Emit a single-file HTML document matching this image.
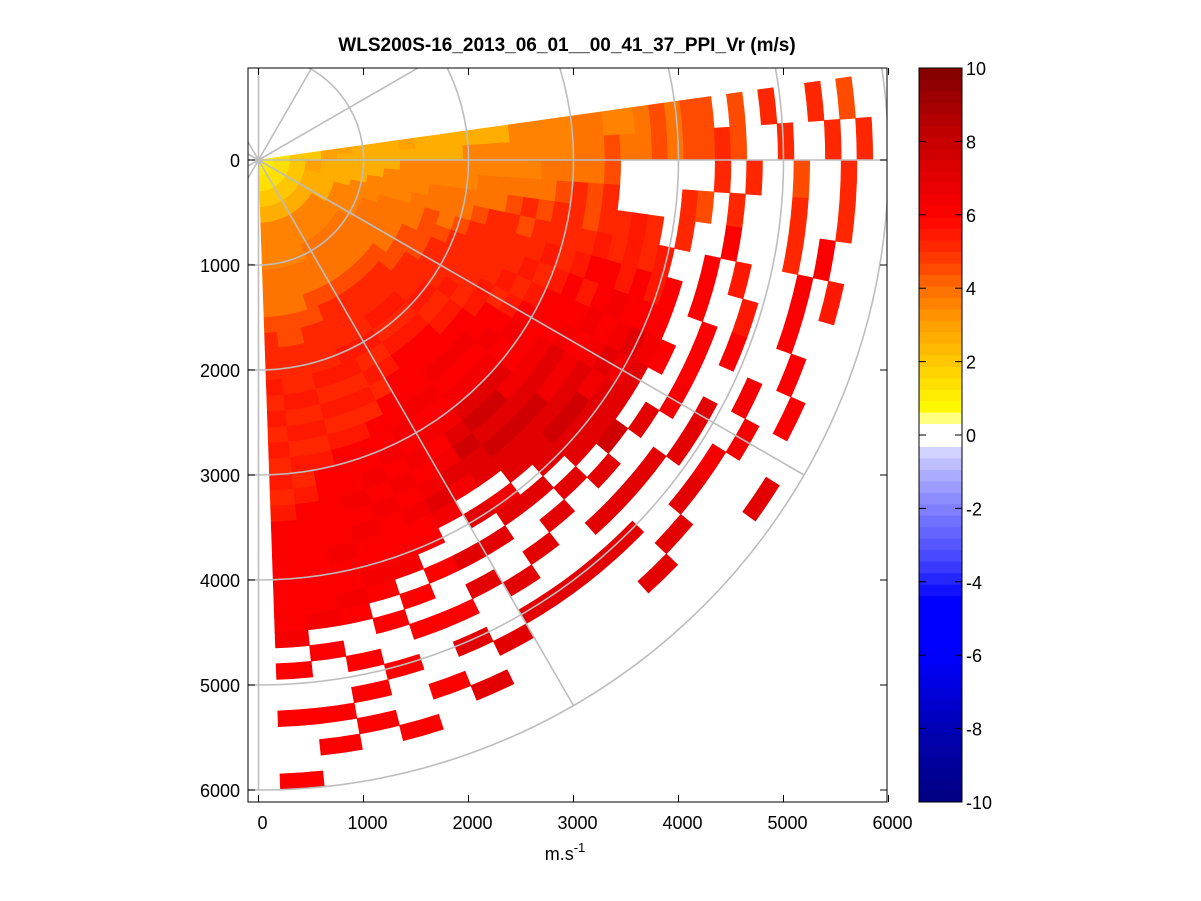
<!DOCTYPE html>
<html><head><meta charset="utf-8"><style>
html,body{margin:0;padding:0;background:#fff;}
svg{display:block;font-family:"Liberation Sans",Arial,sans-serif;}
</style></head><body>
<svg id="chart" width="1201" height="901" viewBox="0 0 1201 901">
<rect width="1201" height="901" fill="#fff"/>
<defs><clipPath id="clip"><rect x="248" y="68" width="639" height="734"/></clipPath></defs>
<text x="567" y="51" text-anchor="middle" font-size="19" font-weight="bold">WLS200S-16_2013_06_01__00_41_37_PPI_Vr (m/s)</text>
<g id="cells" clip-path="url(#clip)"></g>
<g id="grid" clip-path="url(#clip)"></g>
<rect x="248" y="68" width="639" height="734" fill="none" stroke="#000" stroke-width="1"/>
<g id="axes"></g>
<g id="cbar"></g>
<text x="565" y="860" text-anchor="middle" font-size="18">m.s<tspan dy="-8" font-size="13">-1</tspan></text>
</svg>
<script>
// data: range bins of 150 m, angle bins of 4 deg (clockwise from east)
// digit = integer m/s, letter A..H = 0.5..7.5 m/s, '.' = no data
const angleStart = -8;
const angleStep = 4;
const rangeStep = 150;
const rows = [
"1B2233CCC3CCCCCCDDDD44DD4E4EE.E.5..5.E..",
"1B223CCCCCCCCDDDDDDD44E44E4EE5E..5..5.5.",
"1B23CCCCCDDDDDDDDD4444E......5.5..E..5..",
"1B23CCCCDDDDDD44444E5E5....5E.5...5..5..",
"1B23CCCDDDD44444E5E55E55F5.5..6...5.6...",
"1B2CCCDDDD4444E55E5555F5F5F..6.F...6.F..",
"1B2CCDDD444E4E55555F5F66F6F6.6..F..6....",
"1B2CCDD4444EE55555F5F6F6G666..6.6...6...",
"1B2CCDD444EE55555F5F666G6G7G6.6...G..6..",
"1B2CCDD444EE5555F5F666G6G7G7..G.7..G....",
"1B2CDD4444E555F5F66G6G7G7G77.7..7.G...7.",
"1B2CDD444EE55F5F66G66G7G7H77H..7..7.....",
"1B2CDD444E555F5F6G6G7G7H7H77.7.7...7....",
"1B2CDD444E55F5F66G6G7H7H777.7..7.7..7...",
"1B2CDD444E55F5F66G6G7H7H77.7.7...7......",
"1B2CDD444E55F5F666G6G7H77.G7..7..7......",
"1B2CDD444E555F5F66G6G6G7G.7.7..7.7......",
"1B2CDD444E555F5F566G6G6G7G..7.7...7.....",
"1B2CDDD44E555FF5F566G6G6G66.6..6.7..7...",
"1B2CDDD44EE555F5F5F66G6G666G.6.6...6....",
"1B2CDDD444E555F5F5F666G6G66G6.6..6...6..",
"1B2CDDD444EE555F5F5F66666G66G6..6.6.6...",
"1B2CDDD444EE555F5F5F5F6666666G.6...6.6..",
"1B2CDDD444E555F5F5F5F5F6666666G.6..6...6"
];
const xTicks = [0,1000,2000,3000,4000,5000,6000];
const yTicks = [0,1000,2000,3000,4000,5000,6000];
const cbTicks = [10,8,6,4,2,0,-2,-4,-6,-8,-10];
const gridRadii = [1000,2000,3000,4000,5000,6000];
const spokeAngles = [0,30,60,90,120,150,180,210,240,270,300,330];

const NS="http://www.w3.org/2000/svg";
const cx=258.5, cy=160, s=0.105;
function px(r,a){return cx+r*s*Math.cos(a*Math.PI/180);}
function py(r,a){return cy+r*s*Math.sin(a*Math.PI/180);}
function val(ch){ if(ch>='0'&&ch<='9') return parseFloat(ch); return (ch.charCodeAt(0)-65)+0.5; }
const cbTop=68, cbBot=802;
function cbY(v){return cbTop+(10-v)/20*(cbBot-cbTop);}
const stops=[[-10,0,0,128],[-8,0,0,180],[-6,0,0,255],[-4.5,0,0,255],[-3.5,64,64,255],[-2,128,128,255],[-1,175,175,255],[-0.32,220,220,255],[-0.3,255,255,255],[0.3,255,255,255],[0.32,255,255,128],[0.62,255,255,128],[0.64,255,255,0],[1,255,240,0],[2,255,200,0],[3,255,160,0],[4,255,110,0],[5,255,45,0],[6,255,0,0],[8,200,0,0],[10,128,0,0]];
function color(v){
  const lv=Math.floor((v+10)/0.3125); const q=-10+(Math.min(lv,63)+0.5)*0.3125;
  for(let i=0;i<stops.length-1;i++){const a=stops[i],b=stops[i+1];
    if(q>=a[0]&&q<=b[0]){const t=(q-a[0])/(b[0]-a[0]||1);
      return `rgb(${Math.round(a[1]+t*(b[1]-a[1]))},${Math.round(a[2]+t*(b[2]-a[2]))},${Math.round(a[3]+t*(b[3]-a[3]))})`;}}
  return "rgb(128,0,0)";
}
const cells=document.getElementById('cells');
rows.forEach((row,i)=>{
  const a1=angleStart+i*angleStep, a2=a1+angleStep;
  for(let j=0;j<40;j++){
    const ch=row[j]; if(!ch||ch==='.') continue;
    const v=val(ch);
    const r1=Math.max(j*rangeStep,20), r2=(j+1)*rangeStep;
    const d=`M${px(r1,a1)},${py(r1,a1)} L${px(r2,a1)},${py(r2,a1)} A${r2*s},${r2*s} 0 0 1 ${px(r2,a2)},${py(r2,a2)} L${px(r1,a2)},${py(r1,a2)} A${r1*s},${r1*s} 0 0 0 ${px(r1,a1)},${py(r1,a1)}Z`;
    const p=document.createElementNS(NS,'path');
    p.setAttribute('d',d); p.setAttribute('fill',color(v)); p.setAttribute('stroke',color(v)); p.setAttribute('stroke-width','0.6');
    
    
    cells.appendChild(p);
  }
});
const grid=document.getElementById('grid');
gridRadii.forEach(r=>{
  const c=document.createElementNS(NS,'circle');
  c.setAttribute('cx',cx);c.setAttribute('cy',cy);c.setAttribute('r',r*s);
  c.setAttribute('fill','none');c.setAttribute('stroke','#bdbdbd');c.setAttribute('stroke-width','1.6');
  
  
  grid.appendChild(c);
});
spokeAngles.forEach(a=>{
  const l=document.createElementNS(NS,'line');
  l.setAttribute('x1',cx);l.setAttribute('y1',cy);l.setAttribute('x2',px(6000,a));l.setAttribute('y2',py(6000,a));
  l.setAttribute('stroke','#bdbdbd');l.setAttribute('stroke-width','1.6');
  
  
  grid.appendChild(l);
});
const axes=document.getElementById('axes');
function mk(tag,attrs,txt){const e=document.createElementNS(NS,tag);for(const k in attrs)e.setAttribute(k,attrs[k]);if(txt!==undefined)e.textContent=txt;axes.appendChild(e);return e;}
xTicks.forEach(t=>{
  const x=cx+t*s;
  const a=mk('line',{x1:x,y1:802,x2:x,y2:795,stroke:'#000'});
  
  
  const b=mk('line',{x1:x,y1:68,x2:x,y2:75,stroke:'#000'});
  
  
  const lb=mk('text',{x:x+4,y:829,'text-anchor':'middle','font-size':'18'},String(t));
  
  
});
yTicks.forEach(t=>{
  const y=cy+t*s;
  const a=mk('line',{x1:248,y1:y,x2:255,y2:y,stroke:'#000'});
  
  
  const b=mk('line',{x1:887,y1:y,x2:880,y2:y,stroke:'#000'});
  
  
  const lb=mk('text',{x:240,y:y+7,'text-anchor':'end','font-size':'18'},String(t));
  
  
});
const cb=document.getElementById('cbar');
for(let k=0;k<64;k++){
  const v=-10+(k+0.5)*0.3125;
  const r=document.createElementNS(NS,'rect');
  const yTop=cbY(-10+(k+1)*0.3125);
  r.setAttribute('x',919);r.setAttribute('y',yTop);r.setAttribute('width',43);r.setAttribute('height',(cbBot-cbTop)/64+0.5);
  r.setAttribute('fill',color(v));
  
  
  cb.appendChild(r);
}
const fr=document.createElementNS(NS,'rect');
fr.setAttribute('x',919);fr.setAttribute('y',68);fr.setAttribute('width',43);fr.setAttribute('height',734);fr.setAttribute('fill','none');fr.setAttribute('stroke','#000');


cb.appendChild(fr);
cbTicks.forEach(t=>{
  const y=cbY(t);
  [[919,926],[962,955]].forEach(p=>{
    const l=document.createElementNS(NS,'line');
    l.setAttribute('x1',p[0]);l.setAttribute('x2',p[1]);l.setAttribute('y1',y);l.setAttribute('y2',y);l.setAttribute('stroke','#000');
    
    
    cb.appendChild(l);
  });
  const tx=document.createElementNS(NS,'text');
  tx.setAttribute('x',966);tx.setAttribute('y',y+7);tx.setAttribute('font-size','18');tx.textContent=String(t);
  
  
  cb.appendChild(tx);
});
</script>
</body></html>
